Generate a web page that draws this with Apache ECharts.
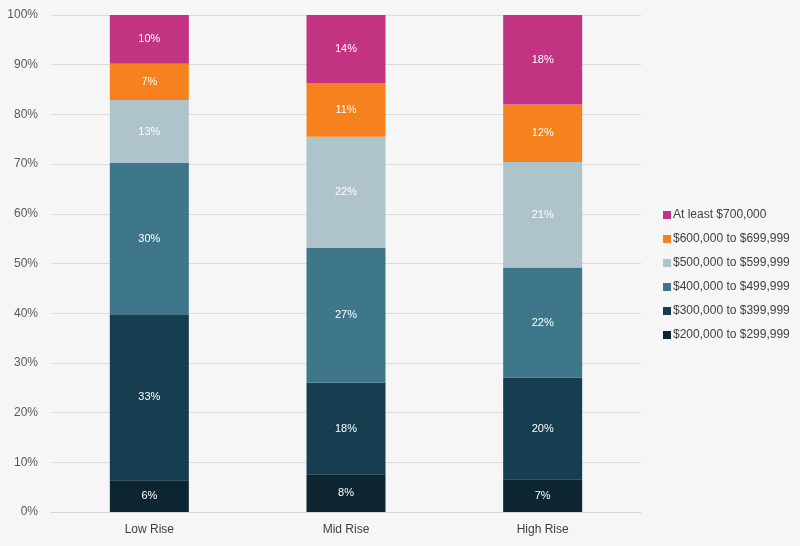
<!DOCTYPE html>
<html><head><meta charset="utf-8">
<script src="https://cdn.jsdelivr.net/npm/echarts@6/dist/echarts.min.js"></script>
<style>html,body{margin:0;padding:0;background:#f6f6f6;}#c{width:800px;height:546px;}</style>
</head><body><div id="c"></div>
<script>
const categories = ['Low Rise', 'Mid Rise', 'High Rise'];
const s200 = [6.4, 7.6, 6.6];
const s300 = [33.4, 18.4, 20.4];
const s400 = [30.4, 27.1, 22.2];
const s500 = [12.7, 22.4, 21.2];
const s600 = [7.3, 10.8, 11.6];
const s700 = [9.8, 13.7, 18.0];
const seriesNames = ['$200,000 to $299,999', '$300,000 to $399,999', '$400,000 to $499,999', '$500,000 to $599,999', '$600,000 to $699,999', 'At least $700,000'];
const seriesData = [s200, s300, s400, s500, s600, s700];
const colors = ['#0d2431', '#173e50', '#3e7789', '#afc3ca', '#f5821f', '#c23482'];
const FONT = '"Liberation Sans", Arial, sans-serif';

const chart = echarts.init(document.getElementById('c'), null, {renderer: 'canvas'});
chart.setOption({
  backgroundColor: 'transparent',
  animation: false,
  grid: {left: 51, right: 159, top: 15, bottom: 34},
  legend: {
    orient: 'vertical', left: 658, top: 204,
    data: seriesNames.slice().reverse(),
    icon: 'rect', itemWidth: 8, itemHeight: 8, itemGap: 12,
    textStyle: {fontFamily: FONT, fontSize: 12, color: '#404040', padding: [0, 0, 0, -3]}
  },
  xAxis: {
    type: 'category', data: categories,
    axisLine: {lineStyle: {color: '#d6d6d6'}},
    axisTick: {show: false},
    axisLabel: {fontFamily: FONT, fontSize: 12, color: '#404040', margin: 12}
  },
  yAxis: {
    type: 'value', min: 0, max: 100, interval: 10,
    axisLabel: {formatter: '{value}%', fontFamily: FONT, fontSize: 12, color: '#595959', margin: 13},
    axisLine: {show: false}, axisTick: {show: false},
    splitLine: {lineStyle: {color: '#dcdcdc'}}
  },
  series: seriesNames.map((n, i) => ({
    name: n, type: 'bar', stack: 'total', data: seriesData[i],
    barWidth: 79,
    itemStyle: {color: colors[i]},
    label: {show: true, position: 'inside', color: '#ffffff', fontFamily: FONT, fontSize: 11,
      formatter: p => Math.round(p.value) + '%'}
  }))
});
</script></body></html>
